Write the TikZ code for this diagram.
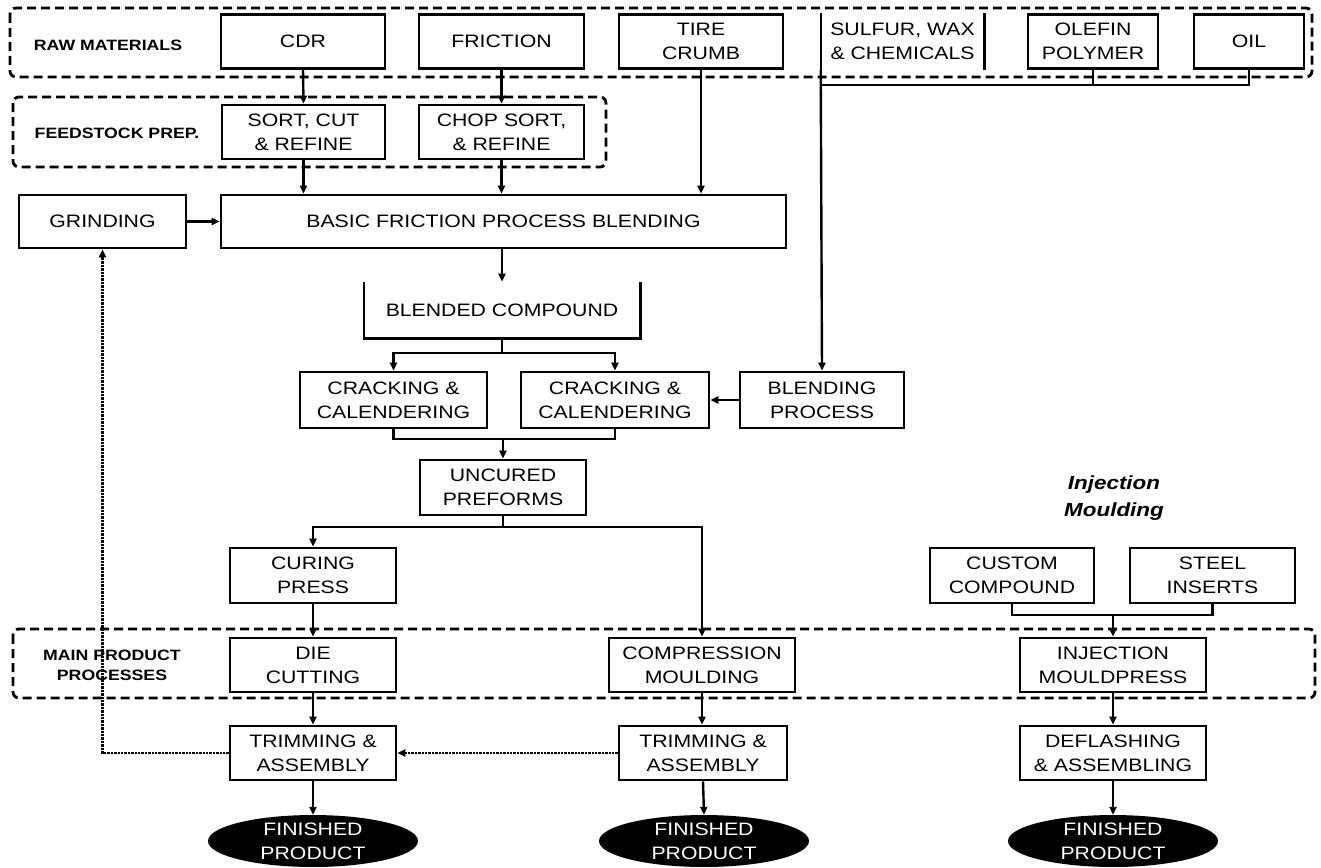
\documentclass[tikz,border=0pt]{standalone}
\usepackage{fontspec}
\setmainfont{Liberation Sans}[FakeStretch=1.18]
\usepackage{tikz}
\usetikzlibrary{shapes, arrows.meta, calc, positioning}
\newcommand{\boxfont}{\fontsize{18}{24}\selectfont}
\newcommand{\sidefont}{\fontsize{15}{20}\selectfont\bfseries}

\begin{document}
\begin{tikzpicture}[x=1pt, y=-1pt,
	blk/.style={draw, line width=2.6pt, align=center, inner sep=0pt, minimum height=54pt, font=\boxfont},
	open/.style={blk, draw=none},
	frm/.style={line width=2.8pt, dash pattern=on 9pt off 5pt, rounded corners=6pt},
	side/.style={align=center, font=\sidefont},
	ln/.style={line width=2.4pt},
	arr/.style={line width=2.4pt, -{Triangle[length=8pt, width=7pt]}},
	fb/.style={line width=2.4pt, densely dotted, -{Triangle[length=8pt, width=7pt]}},
	fin/.style={ellipse, fill=black, text=white, inner sep=0pt, minimum width=210pt, minimum height=48pt, align=center, font=\boxfont}]
	\path[use as bounding box] (0,0) rectangle (1321,867);
	
	\pgfmathsetmacro{\rowraw}{41.5}
	\pgfmathsetmacro{\rowprep}{132}
	\pgfmathsetmacro{\rowblend}{221.5}
	\pgfmathsetmacro{\rowcrack}{400}
	\pgfmathsetmacro{\rowmain}{665}
	\pgfmathsetmacro{\rowtrim}{753}
	
	%% dashed groups
	\draw[frm] (10,8) rectangle (1312,77);
	\draw[frm] (13,97) rectangle (606,167);
	\draw[frm] (13,629) rectangle (1315,698);
	\node[side] (lraw) at (108,45) {RAW MATERIALS};
	\node[side] (lprep) at (117,133) {FEEDSTOCK PREP.};
	\node[side] (lmain) at (112,665) {MAIN PRODUCT\\PROCESSES};
	
	%% raw materials
	\node[blk, minimum width=164pt] (cdr) at (303,\rowraw) {CDR};
	\node[blk, minimum width=165pt] (friction) at (501.5,\rowraw) {FRICTION};
	\node[blk, minimum width=164pt] (tire) at (701,\rowraw) {TIRE\\CRUMB};
	\node[open, minimum width=161pt] (sulfur) at (902.5,\rowraw) {SULFUR, WAX\\\& CHEMICALS};
	\draw[ln] (sulfur.north west) -- (sulfur.south west);
	\draw[ln] (sulfur.north east) -- (sulfur.south east);
	\node[blk, minimum width=130pt] (olefin) at (1093,\rowraw) {OLEFIN\\POLYMER};
	\node[blk, minimum width=110pt] (oil) at (1249,\rowraw) {OIL};
	
	%% feedstock prep
	\node[blk, minimum width=163pt] (sort) at (303.5,\rowprep) {SORT, CUT\\\& REFINE};
	\node[blk, minimum width=165pt] (chop) at (501.5,\rowprep) {CHOP SORT,\\\& REFINE};
	
	\node[blk, minimum width=167pt, minimum height=53pt] (grinding) at (102.5,\rowblend) {GRINDING};
	\node[blk, minimum width=565pt, minimum height=53pt] (basic) at (503.5,\rowblend) {BASIC FRICTION PROCESS BLENDING};
	
	\node[open, minimum width=274pt] (blended) at (502,310) {BLENDED COMPOUND};
	\draw[ln] (blended.north west) |- (blended.south east) -- (blended.north east);
	
	\node[blk, minimum width=187pt, minimum height=56pt] (crack1) at (393.5,\rowcrack) {CRACKING \&\\CALENDERING};
	\node[blk, minimum width=188pt, minimum height=56pt] (crack2) at (615,\rowcrack) {CRACKING \&\\CALENDERING};
	\node[blk, minimum width=164pt, minimum height=56pt] (blending) at (822,\rowcrack) {BLENDING\\PROCESS};
	
	\node[blk, minimum width=166pt, minimum height=55pt] (uncured) at (503,487.5) {UNCURED\\PREFORMS};
	\node[blk, minimum width=166pt, minimum height=55pt] (curing) at (313,575.5) {CURING\\PRESS};
	
	\node[font=\fontsize{19}{27}\selectfont\bfseries\itshape, align=center] (injlabel) at (1114,498) {Injection\\Moulding};
	\node[blk, minimum width=164pt, minimum height=55pt] (custom) at (1012,575.5) {CUSTOM\\COMPOUND};
	\node[blk, minimum width=165pt, minimum height=55pt] (steel) at (1212.5,575.5) {STEEL\\INSERTS};
	
	%% main processes
	\node[blk, minimum width=166pt] (die) at (313,\rowmain) {DIE\\CUTTING};
	\node[blk, minimum width=186pt] (compress) at (702,\rowmain) {COMPRESSION\\MOULDING};
	\node[blk, minimum width=186pt] (inject) at (1113,\rowmain) {INJECTION\\MOULDPRESS};
	
	\node[blk, minimum width=166pt] (trim1) at (313,\rowtrim) {TRIMMING \&\\ASSEMBLY};
	\node[blk, minimum width=168pt] (trim2) at (703,\rowtrim) {TRIMMING \&\\ASSEMBLY};
	\node[blk, minimum width=186pt] (deflash) at (1113,\rowtrim) {DEFLASHING\\\& ASSEMBLING};
	
	\node[fin] (fin1) at (313,841) {FINISHED\\PRODUCT};
	\node[fin] (fin2) at (704,841) {FINISHED\\PRODUCT};
	\node[fin] (fin3) at (1113,841) {FINISHED\\PRODUCT};
	
	%% flow
	\draw[arr] (cdr.south) -- (sort.north);
	\draw[arr] (friction.south) -- (chop.north);
	\draw[arr] (sort.south) -- (sort.south |- basic.north);
	\draw[arr] (chop.south) -- (chop.south |- basic.north);
	\draw[arr] (tire.south) -- (tire.south |- basic.north);
	\draw[arr] (grinding.east) -- (basic.west);
	\draw[arr] (basic.south -| blended.north) -- (blended.north);
	
	\coordinate (feed) at (822,85);
	\draw[ln] (oil.south) |- (feed);
	\draw[ln] (olefin.south) -- (olefin.south |- feed);
	\draw[arr] (sulfur.south west) -- (blending.north);
	
	\coordinate (split) at (502,353);
	\draw[ln] (blended.south) -- (split);
	\draw[arr] (split) -| (crack1.north);
	\draw[arr] (split) -| (crack2.north);
	\draw[arr] (blending.west) -- (crack2.east);
	
	\coordinate (merge) at (503,439);
	\draw[ln] (crack1.south) |- (merge);
	\draw[ln] (crack2.south) |- (merge);
	\draw[arr] (merge) -- (uncured.north);
	
	\coordinate (fork) at (503,527);
	\draw[ln] (uncured.south) -- (fork);
	\draw[arr] (fork) -| (curing.north);
	\draw[arr] (fork) -| (compress.north);
	\draw[arr] (curing.south) -- (die.north);
	\draw[arr] (die.south) -- (trim1.north);
	\draw[arr] (compress.south) -- (compress.south |- trim2.north);
	\draw[arr] (trim1.south) -- (fin1.north);
	\draw[arr] (trim2.south) -- (fin2.north);
	
	\coordinate (join) at (1113,615);
	\draw[ln] (custom.south) |- (join);
	\draw[ln] (steel.south) |- (join);
	\draw[arr] (join) -- (inject.north);
	\draw[arr] (inject.south) -- (deflash.north);
	\draw[arr] (deflash.south) -- (fin3.north);
	
	%% scrap return
	\draw[fb] (trim2.west) -- (trim1.east);
	\draw[fb] (trim1.west) -| (grinding.south);
\end{tikzpicture}
\end{document}
